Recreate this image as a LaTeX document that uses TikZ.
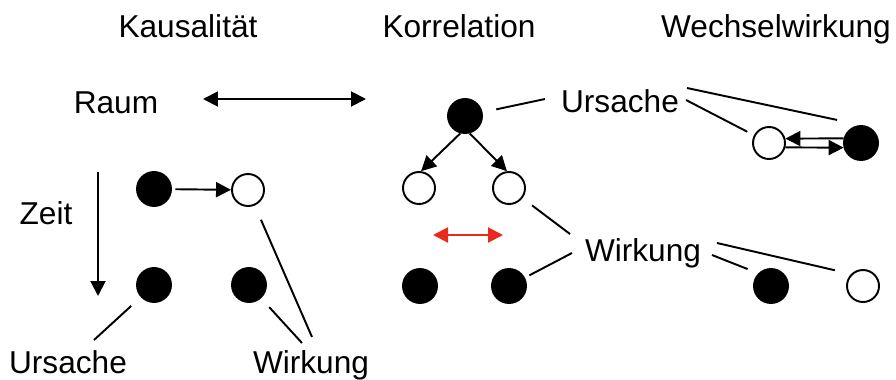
\documentclass[tikz,border=0pt]{standalone}
\usepackage{fontspec}
\setmainfont{Liberation Sans}
\usepackage{tikz}
\usetikzlibrary{arrows.meta}

\definecolor{hinweisrot}{RGB}{232,41,28}

\begin{document}
\begin{tikzpicture}[x=0.02cm, y=-0.02cm,
    >={Triangle[length=0.3cm,width=0.3cm]},
    every node/.style={font=\fontsize{18}{21}\selectfont},
    lbl/.style={inner sep=0pt, anchor=base},
    voll/.style={circle, draw, fill=black, line width=1.1pt, minimum size=0.68cm, inner sep=0pt},
    leer/.style={circle, draw, fill=white, line width=1.1pt, minimum size=0.64cm, inner sep=0pt},
    pfeil/.style={->, line width=1.1pt},
    zeiger/.style={line width=1.1pt}]

  \useasboundingbox (0,0) rectangle (896,379);

  % Headings
  \node[lbl] (kaus) at (188,37) {Kausalität};
  \node[lbl] (korr) at (459,37) {Korrelation};
  \node[lbl] (wech) at (776,37) {Wechselwirkung};

  % Raum and Zeit
  \node[lbl] (raum) at (116,113) {Raum};
  \node[lbl] (zeit) at (46,224) {Zeit};
  \coordinate (r1) at (203,99);
  \coordinate (r2) at (366,99);
  \draw[<->, line width=1.1pt] (r1) -- (r2);
  \coordinate (z1) at (98,172);
  \coordinate (z2) at (98,296);
  \draw[pfeil] (z1) -- (z2);

  % Kausalitaet: cause before effect
  \node[voll] (ka1) at (154,189) {};
  \node[leer] (ka2) at (248,190) {};
  \node[voll] (ka3) at (154,285) {};
  \node[voll] (ka4) at (249,285) {};
  \draw[pfeil, shorten <=0.07cm] (ka1) -- (ka2);

  \node[lbl] (urs1) at (68,373) {Ursache};
  \node[lbl] (wirk1) at (311,373) {Wirkung};
  \coordinate (u1) at (94,340);
  \coordinate (w1a) at (302,343);
  \coordinate (w1b) at (312,337);
  \draw[zeiger, shorten <=0.26cm] (ka3) -- (u1);
  \draw[zeiger, shorten <=0.24cm] (ka4) -- (w1a);
  \draw[zeiger, shorten <=0.31cm] (ka2) -- (w1b);

  % Korrelation: common cause
  \node[voll] (ko1) at (465,116) {};
  \node[leer] (ko2) at (419,188) {};
  \node[leer] (ko3) at (509,188) {};
  \node[voll] (ko4) at (420,286) {};
  \node[voll] (ko5) at (509,286) {};
  \draw[pfeil] (ko1.255) -- (ko2.83);
  \draw[pfeil] (ko1.285) -- (ko3.97);
  \coordinate (rot1) at (433,235);
  \coordinate (rot2) at (503,235);
  \draw[<->, line width=1.1pt, hinweisrot] (rot1) -- (rot2);

  \node[lbl] (urs2) at (620,112) {Ursache};
  \node[lbl] (wirk2) at (643,261) {Wirkung};
  \coordinate (u2a) at (545,99);
  \coordinate (w2a) at (570,234);
  \coordinate (w2b) at (572,253);
  \draw[zeiger, shorten <=0.28cm] (ko1) -- (u2a);
  \draw[zeiger, shorten <=0.24cm] (ko3) -- (w2a);
  \draw[zeiger, shorten <=0.10cm] (ko5) -- (w2b);

  % Wechselwirkung: both directions
  \node[leer] (ww1) at (769,143) {};
  \node[voll] (ww2) at (861,143) {};
  \node[voll] (ww3) at (771,286) {};
  \node[leer] (ww4) at (863,286) {};
  \draw[pfeil] (ww2.165) -- (ww1.15);
  \draw[pfeil] (ww1.-15) -- (ww2.195);

  \coordinate (u3a) at (687,88);
  \coordinate (u3b) at (686,100);
  \coordinate (w3a) at (717,243);
  \coordinate (w3b) at (712,255);
  \draw[zeiger, shorten >=0.49cm] (u3a) -- (ww2.north);
  \draw[zeiger, shorten >=0.15cm] (u3b) -- (ww1);
  \draw[zeiger, shorten >=0.33cm] (w3a) -- (ww4.north west);
  \draw[zeiger, shorten >=0.23cm] (w3b) -- (ww3.north west);

\end{tikzpicture}
\end{document}
